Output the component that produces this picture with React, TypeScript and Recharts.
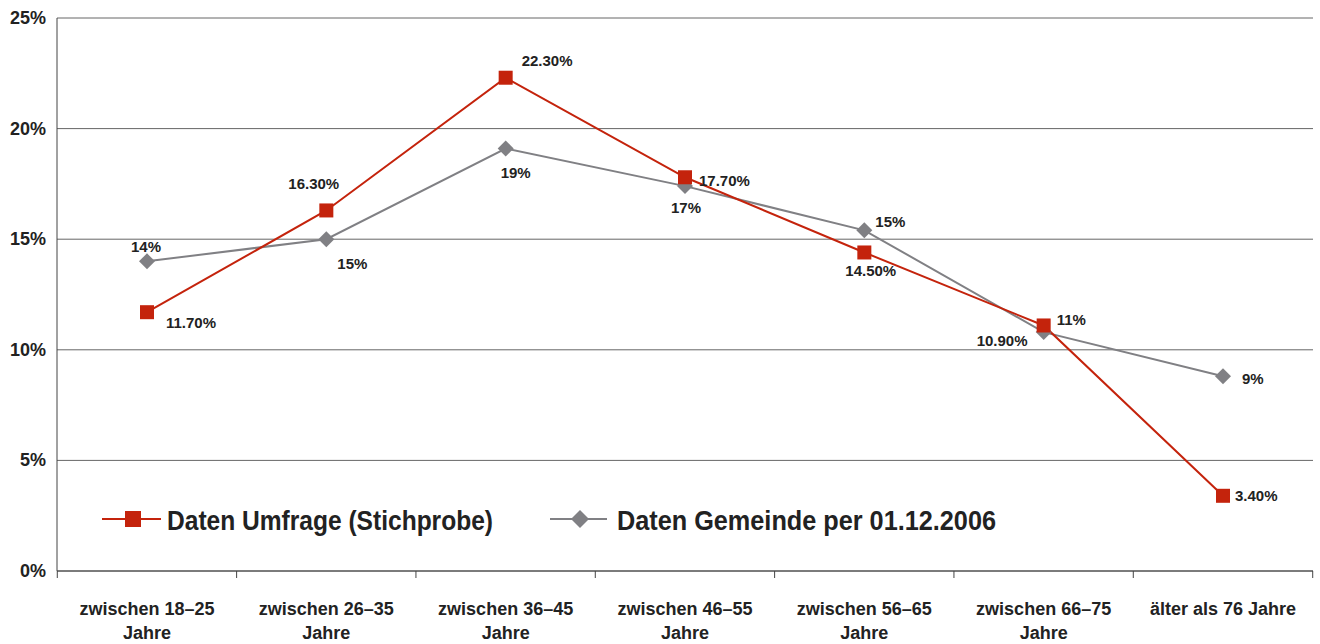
import { LineChart, Line, XAxis, YAxis, CartesianGrid, LabelList } from "recharts";

const categories = [
  "zwischen 18–25|Jahre",
  "zwischen 26–35|Jahre",
  "zwischen 36–45|Jahre",
  "zwischen 46–55|Jahre",
  "zwischen 56–65|Jahre",
  "zwischen 66–75|Jahre",
  "älter als 76 Jahre",
];
const umfrage = [11.7, 16.3, 22.3, 17.8, 14.4, 11.1, 3.4];
const gemeinde = [14.0, 15.0, 19.1, 17.4, 15.4, 10.8, 8.8];
const umfrageLabels = ["11.70%", "16.30%", "22.30%", "17.70%", "14.50%", "10.90%", "3.40%"];
const gemeindeLabels = ["14%", "15%", "19%", "17%", "15%", "11%", "9%"];
const yTicks = [0, 5, 10, 15, 20, 25];

const RED = "#c4230c";
const GRAY = "#808084";
const TEXT = "#222222";
const FONT = "'Liberation Sans', Arial, sans-serif";

// label offsets (start of text relative to point)
const redOff = [[19, 10], [-38, -27], [16, -17], [14, 3], [-19, 18], [-67, 15], [12, 0]];
const grayOff = [[-16, -15], [11, 24], [-5, 24], [-14, 21], [11, -9], [13, -13], [19, 2]];

const data = categories.map((c, i) => ({
  cat: c,
  umfrage: umfrage[i],
  gemeinde: gemeinde[i],
}));

function makeLabel(labels: string[], off: number[][]) {
  return (props: any) => {
    const { x, y, index } = props;
    const [dx, dy] = off[index];
    return (
      <text
        x={x + dx}
        y={y + dy}
        textAnchor="start"
        dominantBaseline="central"
        fontFamily={FONT}
        fontWeight={700}
        fontSize={15}
        fill={TEXT}
      >
        {labels[index]}
      </text>
    );
  };
}

function SquareDot(props: any) {
  const { cx, cy } = props;
  if (cx == null || cy == null) return null;
  return <rect x={cx - 7} y={cy - 7} width={14} height={14} fill={RED} />;
}

function DiamondDot(props: any) {
  const { cx, cy } = props;
  if (cx == null || cy == null) return null;
  const r = 8;
  return (
    <polygon
      points={`${cx},${cy - r} ${cx + r},${cy} ${cx},${cy + r} ${cx - r},${cy}`}
      fill={GRAY}
    />
  );
}

// category label + tick marks on the band boundaries
function XTick(props: any) {
  const { x, y, payload, width, index, visibleTicksCount } = props;
  const half = width / categories.length / 2;
  const axisY = y - 8;
  const lines = String(payload.value).split("|");
  const last = index === visibleTicksCount - 1;
  return (
    <g>
      <line x1={x - half} y1={axisY} x2={x - half} y2={axisY + 7} stroke="#444" />
      {last && <line x1={x + half} y1={axisY} x2={x + half} y2={axisY + 7} stroke="#444" />}
      <text
        x={x}
        y={y + 36}
        textAnchor="middle"
        fontFamily={FONT}
        fontWeight={700}
        fontSize={18}
        fill={TEXT}
      >
        {lines.map((l, i) => (
          <tspan key={i} x={x} dy={i === 0 ? 0 : 24}>
            {l}
          </tspan>
        ))}
      </text>
    </g>
  );
}

function YTick(props: any) {
  const { x, y, payload } = props;
  return (
    <text
      x={x - 3}
      y={y}
      textAnchor="end"
      dominantBaseline="central"
      fontFamily={FONT}
      fontWeight={700}
      fontSize={18}
      fill={TEXT}
    >
      {payload.value}%
    </text>
  );
}

function LegendOverlay() {
  const textStyle = {
    fontFamily: FONT,
    fontWeight: 700,
    fontSize: 28,
    fill: TEXT,
    lengthAdjust: "spacingAndGlyphs",
  } as const;
  return (
    <svg
      width={1320}
      height={644}
      style={{ position: "absolute", left: 0, top: 0, pointerEvents: "none" }}
    >
      <line x1={102} y1={519} x2={161} y2={519} stroke={RED} strokeWidth={2} />
      <rect x={125} y={511} width={16} height={16} fill={RED} />
      <text x={167} y={530} textLength={326} {...textStyle}>
        Daten Umfrage (Stichprobe)
      </text>
      <line x1={550} y1={519} x2={607} y2={519} stroke={GRAY} strokeWidth={2} />
      <polygon points="580,510 589,519 580,528 571,519" fill={GRAY} />
      <text x={617} y={530} textLength={379} {...textStyle}>
        Daten Gemeinde per 01.12.2006
      </text>
    </svg>
  );
}

export default function App() {
  return (
    <div style={{ position: "absolute", left: 0, top: 0, width: 1320, height: 644, background: "#fff" }}>
      <LineChart
        width={1320}
        height={644}
        data={data}
        margin={{ top: 18, right: 7, left: 0, bottom: 0 }}
      >
        <CartesianGrid vertical={false} stroke="#666" strokeWidth={1} />
        <XAxis
          dataKey="cat"
          interval={0}
          height={73}
          padding={{ left: 90, right: 90 }}
          tick={<XTick />}
          tickLine={false}
          axisLine={{ stroke: "#444" }}
        />
        <YAxis
          domain={[0, 25]}
          ticks={yTicks}
          width={57}
          tick={<YTick />}
          tickLine={false}
          axisLine={{ stroke: "#444" }}
        />
        <YAxis
          yAxisId="r"
          orientation="right"
          domain={[0, 25]}
          width={0}
          tick={false}
          tickLine={false}
          axisLine={{ stroke: "#444" }}
        />
        <Line
          type="linear"
          dataKey="gemeinde"
          stroke={GRAY}
          strokeWidth={2}
          dot={<DiamondDot />}
          activeDot={false}
          isAnimationActive={false}
        >
          <LabelList dataKey="gemeinde" content={makeLabel(gemeindeLabels, grayOff)} />
        </Line>
        <Line
          type="linear"
          dataKey="umfrage"
          stroke={RED}
          strokeWidth={2}
          dot={<SquareDot />}
          activeDot={false}
          isAnimationActive={false}
        >
          <LabelList dataKey="umfrage" content={makeLabel(umfrageLabels, redOff)} />
        </Line>
      </LineChart>
      <LegendOverlay />
    </div>
  );
}
